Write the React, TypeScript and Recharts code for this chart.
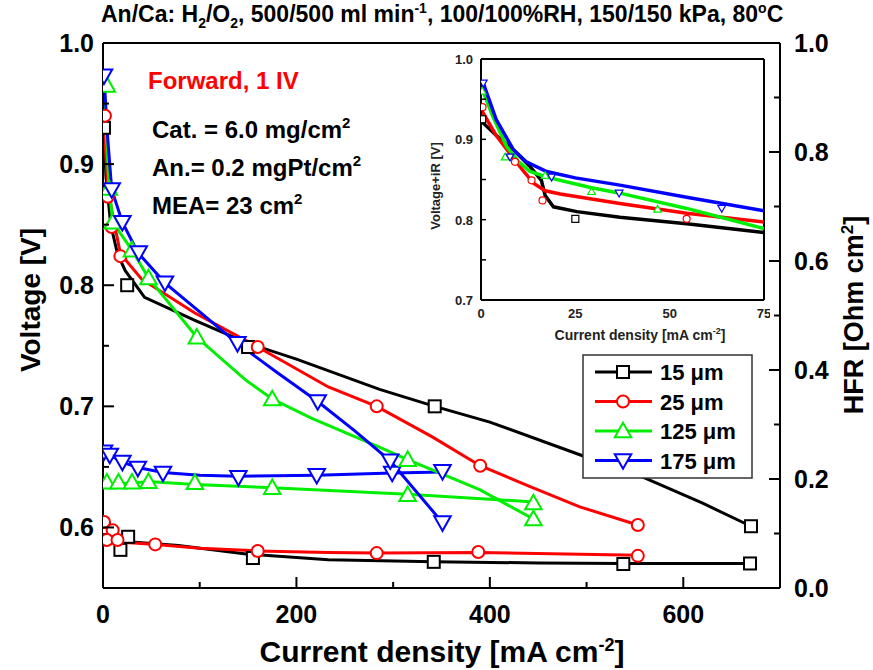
import React from 'react';
import { ComposedChart, Line, Scatter, XAxis, YAxis, ReferenceLine } from 'recharts';

type P = { i: number; v: number };
const toPts = (a: number[][]): P[] => a.map(([i, v]) => ({ i, v }));

// main polarization curves (left axis, V) : [current density, voltage]
const pol15 = toPts([[1, 0.93], [3, 0.89], [8, 0.85], [15, 0.826], [23, 0.812], [43, 0.79], [95, 0.771], [150, 0.752], [200, 0.739], [286, 0.714], [343, 0.7], [400, 0.687], [493, 0.66], [560, 0.641], [620, 0.62], [670, 0.601]]);
const pol15Pts = toPts([[1, 0.93], [25, 0.8], [150, 0.749], [343, 0.7], [670, 0.601]]);
const pol25 = toPts([[1, 0.94], [3, 0.905], [5, 0.88], [10, 0.858], [18, 0.826], [40, 0.805], [95, 0.777], [160, 0.749], [233, 0.716], [283, 0.7], [340, 0.675], [390, 0.651], [441, 0.634], [493, 0.617], [553, 0.602]]);
const pol25Pts = toPts([[2, 0.94], [5, 0.873], [9, 0.848], [18, 0.824], [160, 0.749], [283, 0.7], [390, 0.651], [553, 0.602]]);
const pol125 = toPts([[1, 0.965], [3, 0.93], [6, 0.885], [10, 0.852], [30, 0.829], [47, 0.806], [97, 0.757], [147, 0.722], [175, 0.706], [216, 0.69], [284, 0.667], [315, 0.656], [390, 0.631], [445, 0.607]]);
const pol125Pts = toPts([[4, 0.965], [6, 0.88], [10, 0.852], [30, 0.829], [47, 0.806], [97, 0.757], [175, 0.706], [315, 0.656], [445, 0.607]]);
const pol175 = toPts([[1, 0.973], [5, 0.92], [9, 0.879], [20, 0.852], [36, 0.827], [64, 0.802], [100, 0.778], [139, 0.752], [180, 0.728], [222, 0.704], [260, 0.68], [297, 0.655], [351, 0.604]]);
const pol175Pts = toPts([[1, 0.973], [9, 0.879], [20, 0.852], [37, 0.827], [64, 0.802], [139, 0.752], [222, 0.704], [297, 0.655], [351, 0.604]]);

// HFR curves (right axis, Ohm cm2)
const hfr15 = toPts([[1, 0.11], [5, 0.095], [10, 0.09], [18, 0.086], [33, 0.084], [78, 0.078], [150, 0.062], [233, 0.052], [342, 0.048], [450, 0.046], [538, 0.045], [669, 0.045]]);
const hfr15Pts = toPts([[1, 0.11], [18, 0.07], [26, 0.094], [155, 0.055], [342, 0.048], [538, 0.044], [669, 0.045]]);
const hfr25 = toPts([[1, 0.12], [4, 0.105], [8, 0.09], [20, 0.084], [55, 0.08], [100, 0.073], [160, 0.068], [233, 0.065], [283, 0.064], [390, 0.065], [553, 0.06]]);
const hfr25Pts = toPts([[1, 0.121], [10, 0.106], [4, 0.088], [15, 0.088], [54, 0.08], [160, 0.068], [283, 0.064], [388, 0.066], [553, 0.059]]);
const hfr125 = toPts([[1, 0.185], [10, 0.19], [30, 0.193], [50, 0.195], [95, 0.19], [175, 0.184], [315, 0.172], [445, 0.158]]);
const hfr125Pts = toPts([[4, 0.194], [16, 0.194], [30, 0.194], [47, 0.195], [95, 0.193], [175, 0.184], [315, 0.171], [445, 0.156]]);
const hfr175 = toPts([[1, 0.25], [7, 0.244], [20, 0.231], [36, 0.221], [62, 0.212], [100, 0.207], [140, 0.205], [221, 0.207], [299, 0.211], [351, 0.213]]);
const hfr175Pts = toPts([[1, 0.25], [7, 0.244], [20, 0.231], [36, 0.22], [62, 0.211], [140, 0.203], [221, 0.207], [299, 0.211], [351, 0.214]]);

// inset: Voltage+iR vs current density (0-75)
const ins15 = toPts([[0.2, 0.922], [4, 0.905], [8.6, 0.887], [13, 0.866], [16, 0.849], [17, 0.83], [19.2, 0.816], [25.4, 0.81], [36.8, 0.803], [54.5, 0.795], [75, 0.784]]);
const ins15Pts = toPts([[0.3, 0.925], [25, 0.801]]);
const ins25 = toPts([[0.3, 0.935], [4, 0.905], [7.7, 0.882], [11, 0.862], [14, 0.845], [17, 0.836], [21, 0.832], [36.8, 0.82], [54.5, 0.808], [75, 0.797]]);
const ins25Pts = toPts([[0.4, 0.94], [9, 0.872], [13.4, 0.849], [16.3, 0.824], [54.5, 0.801]]);
const ins125 = toPts([[0.3, 0.963], [3, 0.93], [6.8, 0.891], [10, 0.872], [13, 0.86], [17.4, 0.853], [29, 0.84], [36.8, 0.833], [54.5, 0.814], [75, 0.789]]);
const ins125Pts = toPts([[0.3, 0.96], [6.4, 0.878], [17, 0.855], [29.3, 0.835], [46.8, 0.813]]);
const ins175 = toPts([[0.6, 0.97], [4, 0.925], [8.6, 0.887], [12, 0.872], [17.4, 0.86], [25, 0.852], [36.8, 0.843], [54.5, 0.828], [75, 0.811]]);
const ins175Pts = toPts([[0.6, 0.97], [7.7, 0.878], [18.7, 0.853], [36.6, 0.833], [63.8, 0.814]]);

const xTicks = [0, 100, 200, 300, 400, 500, 600, 700];
const vTicks = [0.6, 0.65, 0.7, 0.75, 0.8, 0.85, 0.9, 0.95, 1.0];
const hTicks = [0, 0.1, 0.2, 0.3, 0.4, 0.5, 0.6, 0.7, 0.8, 0.9, 1.0];
const insXTicks = [0, 25, 50, 75];
const insVTicks = [0.7, 0.75, 0.8, 0.85, 0.9, 0.95, 1.0];

const seriesNames = ['15 μm', '25 μm', '125 μm', '175 μm'];
const colors = ['#000000', '#ff0000', '#00ee00', '#0000ff'];
const kinds = ['sq', 'ci', 'up', 'dn'];

const F = "'Liberation Sans', Arial, sans-serif";

const Marker = ({ kind, x, y, s, color, sw }: any) => {
  const h = s / 2;
  if (kind === 'sq') return <rect x={x - h} y={y - h} width={s} height={s} fill="#fff" stroke={color} strokeWidth={sw} />;
  if (kind === 'ci') return <circle cx={x} cy={y} r={h} fill="#fff" stroke={color} strokeWidth={sw} />;
  const d = kind === 'up' ? 1 : -1;
  const pts = `${x},${y - d * s * 0.55} ${x - h * 1.1},${y + d * s * 0.42} ${x + h * 1.1},${y + d * s * 0.42}`;
  return <polygon points={pts} fill="#fff" stroke={color} strokeWidth={sw} />;
};

const isMajor = (v: number, step: number) => Math.abs(v / step - Math.round(v / step)) < 1e-6;

const LeftTick = (p: any) => {
  const { x, y, payload } = p;
  const major = isMajor(payload.value, 0.1);
  return (
    <g>
      <line x1={x} x2={x + (major ? 11 : 6)} y1={y} y2={y} stroke="#000" strokeWidth={2} />
      {major && (
        <text x={x - 9} y={y + 9} textAnchor="end" fontFamily={F} fontWeight="bold" fontSize={25} fill="#000">
          {payload.value.toFixed(1)}
        </text>
      )}
    </g>
  );
};

const RightTick = (p: any) => {
  const { x, y, payload } = p;
  const major = isMajor(payload.value, 0.2);
  return (
    <g>
      <line x1={x} x2={x - (major ? 11 : 6)} y1={y} y2={y} stroke="#000" strokeWidth={2} />
      {major && (
        <text x={x + 14} y={y + 9} textAnchor="start" fontFamily={F} fontWeight="bold" fontSize={25} fill="#000">
          {payload.value.toFixed(1)}
        </text>
      )}
    </g>
  );
};

const BottomTick = (p: any) => {
  const { x, y, payload } = p;
  const major = isMajor(payload.value, 200);
  return (
    <g>
      <line x1={x} x2={x} y1={y} y2={y - (major ? 11 : 6)} stroke="#000" strokeWidth={2} />
      {major && (
        <text x={x} y={y + 35} textAnchor="middle" fontFamily={F} fontWeight="bold" fontSize={25} fill="#000">
          {payload.value}
        </text>
      )}
    </g>
  );
};

const InsLeftTick = (p: any) => {
  const { x, y, payload } = p;
  const major = isMajor(payload.value, 0.1);
  return (
    <g>
      <line x1={x} x2={x + 5} y1={y} y2={y} stroke="#000" strokeWidth={1.5} />
      {major && (
        <text x={x - 8} y={y + 5} textAnchor="end" fontFamily={F} fontWeight="bold" fontSize={13} fill="#222">
          {payload.value.toFixed(1)}
        </text>
      )}
    </g>
  );
};

const InsBottomTick = (p: any) => {
  const { x, y, payload } = p;
  return (
    <g>
      <text x={x} y={y + 18} textAnchor="middle" fontFamily={F} fontWeight="bold" fontSize={13} fill="#222">
        {payload.value}
      </text>
    </g>
  );
};

const polLines = [pol15, pol25, pol125, pol175];
const polPts = [pol15Pts, pol25Pts, pol125Pts, pol175Pts];
const hfrLines = [hfr15, hfr25, hfr125, hfr175];
const hfrPts = [hfr15Pts, hfr25Pts, hfr125Pts, hfr175Pts];
const insLines = [ins15, ins25, ins125, ins175];
const insPts = [ins15Pts, ins25Pts, ins125Pts, ins175Pts];

const MainChart = () => (
  <ComposedChart width={873} height={670} margin={{ top: 43, right: 0, bottom: 0, left: 0 }}>
    <XAxis type="number" dataKey="i" domain={[0, 700]} ticks={xTicks} interval={0} height={82}
      tickSize={0} tickMargin={0} tickLine={false} axisLine={{ stroke: '#000', strokeWidth: 2 }}
      tick={(p: any) => <BottomTick {...p} />} allowDataOverflow />
    <YAxis yAxisId="left" type="number" dataKey="v" domain={[0.55, 1]} ticks={vTicks} interval={0} width={103}
      tickSize={0} tickMargin={0} tickLine={false} axisLine={{ stroke: '#000', strokeWidth: 2 }}
      tick={(p: any) => <LeftTick {...p} />} allowDataOverflow />
    <YAxis yAxisId="right" orientation="right" type="number" dataKey="v" domain={[0, 1]} ticks={hTicks} interval={0} width={93}
      tickSize={0} tickMargin={0} tickLine={false} axisLine={{ stroke: '#000', strokeWidth: 2 }}
      tick={(p: any) => <RightTick {...p} />} allowDataOverflow />
    <ReferenceLine yAxisId="left" y={1} stroke="#000" strokeWidth={2} />
    {hfrLines.map((d, k) => (
      <Line key={'hl' + k} yAxisId="right" data={d} dataKey="v" type="linear" stroke={colors[k]} strokeWidth={3} dot={false} isAnimationActive={false} />
    ))}
    {hfrPts.map((d, k) => (
      <Scatter key={'hp' + k} yAxisId="right" data={d} dataKey="v" isAnimationActive={false}
        shape={(p: any) => <Marker kind={kinds[k]} x={p.cx} y={p.cy} s={k >= 2 ? 15 : 12} color={colors[k]} sw={2} />} />
    ))}
    {polLines.map((d, k) => (
      <Line key={'pl' + k} yAxisId="left" data={d} dataKey="v" type="linear" stroke={colors[k]} strokeWidth={3} dot={false} isAnimationActive={false} />
    ))}
    {polPts.map((d, k) => (
      <Scatter key={'pp' + k} yAxisId="left" data={d} dataKey="v" isAnimationActive={false}
        shape={(p: any) => <Marker kind={kinds[k]} x={p.cx} y={p.cy} s={k >= 2 ? 15 : 12} color={colors[k]} sw={2} />} />
    ))}
  </ComposedChart>
);

const InsetChart = () => (
  <ComposedChart width={360} height={300} margin={{ top: 9, right: 6, bottom: 0, left: 0 }}>
    <XAxis type="number" dataKey="i" domain={[0, 75]} ticks={insXTicks} interval={0} height={50}
      tickSize={0} tickMargin={0} tickLine={false} axisLine={{ stroke: '#000', strokeWidth: 2 }}
      tick={(p: any) => <InsBottomTick {...p} />} allowDataOverflow />
    <YAxis type="number" dataKey="v" domain={[0.7, 1]} ticks={insVTicks} interval={0} width={71}
      tickSize={0} tickMargin={0} tickLine={false} axisLine={{ stroke: '#000', strokeWidth: 2 }}
      tick={(p: any) => <InsLeftTick {...p} />} allowDataOverflow />
    <ReferenceLine y={1} stroke="#000" strokeWidth={2} />
    <ReferenceLine x={75} stroke="#000" strokeWidth={2} />
    {insLines.map((d, k) => (
      <Line key={'il' + k} data={d} dataKey="v" type="linear" stroke={colors[k]} strokeWidth={3.5} dot={false} isAnimationActive={false} />
    ))}
    {insPts.map((d, k) => (
      <Scatter key={'ip' + k} data={d} dataKey="v" isAnimationActive={false}
        shape={(p: any) => <Marker kind={kinds[k]} x={p.cx} y={p.cy} s={7} color={colors[k]} sw={1.2} />} />
    ))}
  </ComposedChart>
);

const Overlay = () => (
  <svg width={873} height={670} style={{ position: 'absolute', left: 0, top: 0, pointerEvents: 'none' }}>
    <text x={101} y={22} fontFamily={F} fontWeight="bold" fontSize={23} fill="#000">
      An/Ca: H<tspan dy={6} fontSize={14}>2</tspan><tspan dy={-6}>/O</tspan><tspan dy={6} fontSize={14}>2</tspan>
      <tspan dy={-6}>, 500/500 ml min</tspan><tspan dy={-9} fontSize={14}>-1</tspan>
      <tspan dy={9}>, 100/100%RH, 150/150 kPa, 80</tspan><tspan dy={-9} fontSize={14}>o</tspan><tspan dy={9}>C</tspan>
    </text>
    <text x={148} y={89} fontFamily={F} fontWeight="bold" fontSize={24} fill="#ff0000">Forward, 1 IV</text>
    <text x={152} y={138} fontFamily={F} fontWeight="bold" fontSize={24} fill="#000">
      Cat. = 6.0 mg/cm<tspan dy={-10} fontSize={15}>2</tspan>
    </text>
    <text x={152} y={176} fontFamily={F} fontWeight="bold" fontSize={24} fill="#000">
      An.= 0.2 mgPt/cm<tspan dy={-10} fontSize={15}>2</tspan>
    </text>
    <text x={152} y={214} fontFamily={F} fontWeight="bold" fontSize={24} fill="#000">
      MEA= 23 cm<tspan dy={-10} fontSize={15}>2</tspan>
    </text>
    <text transform="translate(40,300) rotate(-90)" textAnchor="middle" fontFamily={F} fontWeight="bold" fontSize={28} fill="#000">
      Voltage [V]
    </text>
    <text transform="translate(863,315) rotate(-90)" textAnchor="middle" fontFamily={F} fontWeight="bold" fontSize={27} fill="#000">
      HFR [Ohm cm<tspan dy={-10} fontSize={17}>2</tspan><tspan dy={10}>]</tspan>
    </text>
    <text x={442} y={662} textAnchor="middle" fontFamily={F} fontWeight="bold" fontSize={30} fill="#000">
      Current density [mA cm<tspan dy={-11} fontSize={18}>-2</tspan><tspan dy={11}>]</tspan>
    </text>
    <text transform="translate(440,186) rotate(-90)" textAnchor="middle" fontFamily={F} fontWeight="bold" fontSize={13} fill="#222">
      Voltage+iR [V]
    </text>
    <text x={640} y={340} textAnchor="middle" fontFamily={F} fontWeight="bold" fontSize={14} fill="#222">
      Current density [mA cm<tspan dy={-6} fontSize={9}>-2</tspan><tspan dy={6}>]</tspan>
    </text>
    <rect x={583} y={355} width={169} height={123} fill="#fff" stroke="#333" strokeWidth={1.5} />
    {seriesNames.map((n, k) => {
      const y = 372 + k * 29.5;
      return (
        <g key={n}>
          <line x1={595} x2={652} y1={y} y2={y} stroke={colors[k]} strokeWidth={3} />
          <Marker kind={kinds[k]} x={623} y={y} s={k >= 2 ? 15 : 12} color={colors[k]} sw={2} />
          <text x={660} y={y + 8} fontFamily={F} fontWeight="bold" fontSize={22} fill="#000">{n}</text>
        </g>
      );
    })}
  </svg>
);

export default function App() {
  return (
    <div style={{ position: 'absolute', left: 0, top: 0, width: 873, height: 670, background: '#fff' }}>
      <div style={{ position: 'absolute', left: 0, top: 0 }}>
        <MainChart />
      </div>
      <div style={{ position: 'absolute', left: 410, top: 50 }}>
        <InsetChart />
      </div>
      <Overlay />
    </div>
  );
}
